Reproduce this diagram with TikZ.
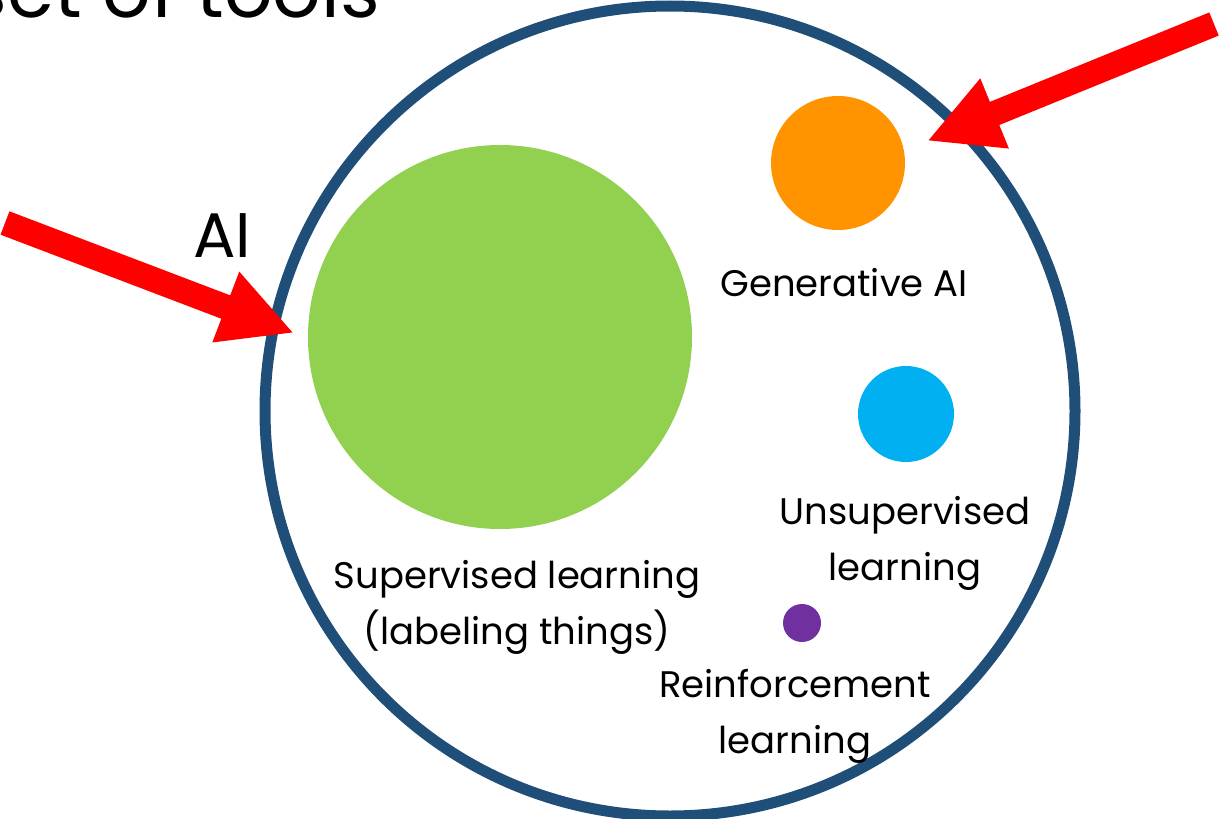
\documentclass[tikz,border=0pt]{standalone}
\usepackage{fontspec}
\setmainfont{Poppins}
\usetikzlibrary{arrows.meta}

\definecolor{ringblue}{HTML}{1F4E79}
\definecolor{supgreen}{HTML}{92D050}
\definecolor{genorange}{HTML}{FF9300}
\definecolor{unsupblue}{HTML}{00B0F0}
\definecolor{rlpurple}{HTML}{7030A0}

\tikzset{
  blob/.style={circle,inner sep=0pt,draw=none},
  lbl/.style={align=center,inner sep=0pt,font=\fontsize{37}{56}\selectfont},
  bigarrow/.style={red,line width=25pt,-{Triangle[width=70pt,length=73pt]}}
}

\begin{document}
\begin{tikzpicture}[x=1pt,y=-1pt]
\clip (0,0) rectangle (1221,819);
%\draw[step=50,gray,very thin] (0,0) grid (1221,819);
\node[anchor=base east,inner sep=0pt,font=\fontsize{76}{80}\selectfont] (title) at (380,17) {set of tools};

% the AI ring
\node[circle,draw=ringblue,line width=11pt,minimum size=810pt,inner sep=0pt] (ring) at (670,411) {};
\node[inner sep=0pt,font=\fontsize{63}{70}\selectfont] (ailbl) at (222,236) {AI};

% subfields
\node[blob,fill=supgreen,minimum size=384pt] (sup) at (500,337) {};
\node[blob,fill=genorange,minimum size=134pt] (gen) at (838,163) {};
\node[blob,fill=unsupblue,minimum size=96pt] (unsup) at (906,414) {};
\node[blob,fill=rlpurple,minimum size=38pt] (rl) at (802,623) {};

\node[lbl] (genlbl) at (844,283) {Generative AI};
\node[lbl] (unsuplbl) at (905,543) {Unsupervised\\learning};
\node[lbl] (suplbl) at (517,607) {Supervised learning\\(labeling things)};
\node[lbl] (rllbl) at (795,716) {Reinforcement\\learning};

% pointers
\coordinate (lstart) at (5,223);
\coordinate (ltip) at (294,333);
\coordinate (rstart) at (1214,24);
\coordinate (rtip) at (927,141);
\draw[bigarrow] (lstart) -- (ltip);
\draw[bigarrow] (rstart) -- (rtip);
\end{tikzpicture}
\end{document}
